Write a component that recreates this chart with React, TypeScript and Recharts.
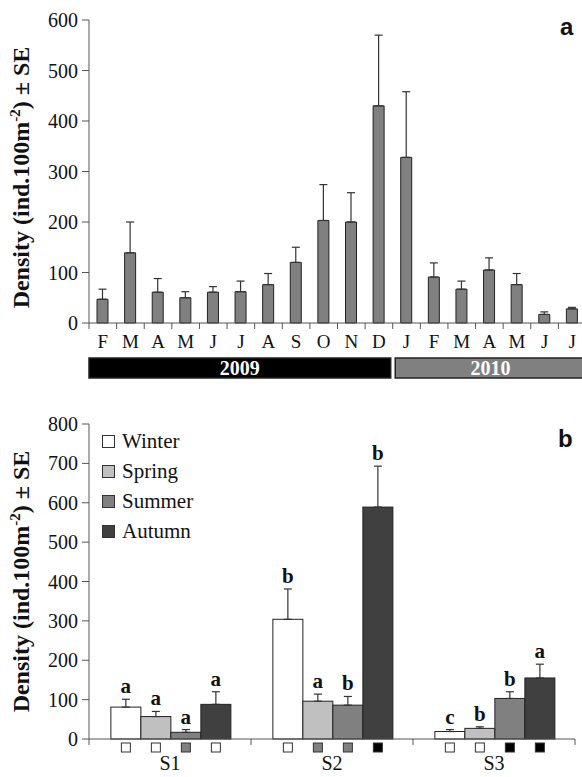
import React from 'react';
import { BarChart, Bar, XAxis, YAxis, ErrorBar, Legend } from 'recharts';

// panel a: monthly density, Feb 2009 - Jul 2010
const months = ['F', 'M', 'A', 'M', 'J', 'J', 'A', 'S', 'O', 'N', 'D', 'J', 'F', 'M', 'A', 'M', 'J', 'J'];
const monthYears = [
  '2009', '2009', '2009', '2009', '2009', '2009', '2009', '2009', '2009', '2009', '2009',
  '2010', '2010', '2010', '2010', '2010', '2010', '2010',
];
const monthDensity = [47, 139, 61, 50, 61, 62, 76, 120, 203, 200, 430, 328, 91, 67, 105, 76, 17, 28];
const monthSe = [20, 61, 27, 12, 11, 21, 22, 30, 71, 58, 140, 130, 28, 16, 24, 22, 5, 3];
const densityTicksA = [0, 100, 200, 300, 400, 500, 600];

// panel b: seasonal density per site
const sites = ['S1', 'S2', 'S3'];
const seasons = ['Winter', 'Spring', 'Summer', 'Autumn'];
const winterDensity = [81, 304, 19];
const springDensity = [57, 96, 27];
const summerDensity = [17, 86, 103];
const autumnDensity = [88, 589, 155];
const winterSe = [20, 77, 5];
const springSe = [13, 18, 4];
const summerSe = [7, 22, 17];
const autumnSe = [32, 104, 35];
const winterLetters = ['a', 'b', 'c'];
const springLetters = ['a', 'a', 'b'];
const summerLetters = ['a', 'b', 'b'];
const autumnLetters = ['a', 'b', 'a'];
const winterMarks = ['white', 'white', 'white'];
const springMarks = ['white', 'gray', 'white'];
const summerMarks = ['gray', 'gray', 'black'];
const autumnMarks = ['white', 'black', 'black'];
const densityTicksB = [0, 100, 200, 300, 400, 500, 600, 700, 800];

const SERIF = 'Liberation Serif, Times New Roman, serif';
const SANS = 'Liberation Sans, Arial, sans-serif';
const AXIS = '#555';

const seasonFill: Record<string, string> = { Winter: '#ffffff', Spring: '#c0c0c0', Summer: '#808080', Autumn: '#404040' };
const markFill: Record<string, string> = { white: '#ffffff', gray: '#808080', black: '#000000' };
const yearFill: Record<string, string> = { '2009': '#000000', '2010': '#808080' };

const monthData = months.map((m, i) => ({ month: m, year: monthYears[i], density: monthDensity[i], se: monthSe[i] }));

const seasonCols: Record<string, [number[], number[], string[], string[]]> = {
  Winter: [winterDensity, winterSe, winterLetters, winterMarks],
  Spring: [springDensity, springSe, springLetters, springMarks],
  Summer: [summerDensity, summerSe, summerLetters, summerMarks],
  Autumn: [autumnDensity, autumnSe, autumnLetters, autumnMarks],
};
const siteData = sites.map((site, i) => {
  const row: any = { site };
  seasons.forEach((s) => {
    const [d, se, let_, mk] = seasonCols[s];
    row[s] = d[i];
    row[s + 'Se'] = se[i];
    row[s + 'Letter'] = let_[i];
    row[s + 'Mark'] = mk[i];
  });
  return row;
});

// chart geometry
const A_W = 590, A_H = 390, A_LEFT = 89, A_RIGHT = 4;
const B_W = 582, B_H = 387, B_LEFT = 89, B_RIGHT = 7;
const STEP_A = (A_W - A_LEFT - A_RIGHT) / months.length;
const STEP_B = (B_W - B_LEFT - B_RIGHT) / sites.length;

const serifText = { fontFamily: SERIF };

const DensityLabel = ({ viewBox, shift }: any) => {
  const cx = viewBox.x + 29;
  const cy = viewBox.y + viewBox.height / 2 + shift;
  return (
    <text
      transform={`translate(${cx},${cy}) rotate(-90)`}
      textAnchor="middle"
      style={serifText}
      fontWeight="bold"
      fontSize={24}
      fill="#111"
    >
      Density (ind.100m<tspan dy={-9} fontSize={15}>-2</tspan>
      <tspan dy={9}>) ± SE</tspan>
    </text>
  );
};

const YTick = ({ x, y, payload }: any) => (
  <text x={x} y={y} dy="0.35em" textAnchor="end" style={serifText} fontSize={20} fill="#111">
    {payload.value}
  </text>
);

const MonthTick = ({ x, y, payload, index }: any) => {
  const i = index ?? payload.index;
  const left = x - STEP_A / 2;
  const year = monthYears[i];
  const starts = i === 0 || monthYears[i - 1] !== year;
  let band = null;
  if (starts) {
    const n = monthYears.filter((yy) => yy === year).length;
    const isLast = i + n >= monthYears.length;
    const x0 = left + (i === 0 ? 0 : 2.5);
    const x1 = left + n * STEP_A - (isLast ? 0 : 2);
    band = (
      <g>
        <rect x={x0} y={y + 35} width={x1 - x0} height={20} fill={yearFill[year]} stroke="#222" strokeWidth={1.5} />
        <text x={(x0 + x1) / 2} y={y + 52} textAnchor="middle" style={serifText} fontWeight="bold" fontSize={20} fill="#fff">
          {year}
        </text>
      </g>
    );
  }
  return (
    <g>
      <line x1={left} x2={left} y1={y} y2={y + 6} stroke={AXIS} />
      <text x={x} y={y + 25} textAnchor="middle" style={serifText} fontSize={19} fill="#111">
        {payload.value}
      </text>
      {band}
    </g>
  );
};

const SiteTick = ({ x, y, payload, index }: any) => {
  const i = index ?? payload.index;
  const left = x - STEP_B / 2;
  return (
    <g>
      <line x1={left} x2={left} y1={y} y2={y + 6} stroke={AXIS} />
      {i === sites.length - 1 && <line x1={left + STEP_B} x2={left + STEP_B} y1={y} y2={y + 6} stroke={AXIS} />}
      <text x={x} y={y + 31} textAnchor="middle" style={serifText} fontSize={20} fill="#111">
        {payload.value}
      </text>
    </g>
  );
};

const makeSeasonShape = (season: string) => (props: any) => {
  const { x, y, width, height, payload } = props;
  const val = payload[season];
  const unit = val > 0 ? height / val : 0;
  const errTop = y - payload[season + 'Se'] * unit;
  const cx = x + width / 2;
  const base = y + height;
  return (
    <g>
      <rect x={x} y={y} width={width} height={height} fill={seasonFill[season]} stroke="#222" strokeWidth={1} />
      <text x={cx} y={errTop - 6} textAnchor="middle" style={serifText} fontWeight="bold" fontSize={21} fill="#111">
        {payload[season + 'Letter']}
      </text>
      <rect x={cx - 4.5} y={base + 4} width={9} height={9} fill={markFill[payload[season + 'Mark']]} stroke="#333" strokeWidth={1} />
    </g>
  );
};

const SeasonLegend = ({ payload }: any) => {
  const items = seasons.filter((s) => (payload || []).some((p: any) => p.value === s));
  return (
    <div style={{ fontFamily: SERIF, fontSize: 21, color: '#111' }}>
      {items.map((s) => (
        <div key={s} style={{ display: 'flex', alignItems: 'center', height: 30 }}>
          <div style={{ width: 11, height: 11, background: seasonFill[s], border: '1px solid #333', marginRight: 7 }} />
          <span>{s}</span>
        </div>
      ))}
    </div>
  );
};

const App = () => {
  return (
    <div style={{ position: 'absolute', left: 0, top: 0, width: 582, height: 777, overflow: 'hidden', background: '#fff' }}>
      <div style={{ position: 'absolute', left: 0, top: 0 }}>
        <BarChart width={A_W} height={A_H} data={monthData} margin={{ top: 20, right: A_RIGHT, bottom: 7, left: 0 }}>
          <XAxis
            dataKey="month"
            interval={0}
            height={60}
            tickLine={false}
            tickSize={0}
            tickMargin={0}
            axisLine={{ stroke: AXIS }}
            tick={<MonthTick />}
          />
          <YAxis
            width={A_LEFT}
            domain={[0, 600]}
            ticks={densityTicksA}
            interval={0}
            tickSize={7}
            tickMargin={4}
            axisLine={{ stroke: AXIS }}
            tickLine={{ stroke: AXIS }}
            tick={<YTick />}
            label={<DensityLabel shift={6} />}
          />
          <Bar dataKey="density" fill="#808080" stroke="#222" strokeWidth={1} barSize={11} isAnimationActive={false}>
            <ErrorBar dataKey={(d: any) => [0, d.se]} width={4} stroke="#333" strokeWidth={1.2} direction="y" />
          </Bar>
        </BarChart>
      </div>

      <div style={{ position: 'absolute', left: 0, top: 390 }}>
        <BarChart
          width={B_W}
          height={B_H}
          data={siteData}
          margin={{ top: 34, right: B_RIGHT, bottom: 0, left: 0 }}
          barCategoryGap="13.5%"
          barGap={0}
        >
          <XAxis
            dataKey="site"
            interval={0}
            height={38}
            tickLine={false}
            tickSize={0}
            tickMargin={0}
            axisLine={{ stroke: AXIS }}
            tick={<SiteTick />}
          />
          <YAxis
            width={B_LEFT}
            domain={[0, 800]}
            ticks={densityTicksB}
            interval={0}
            tickSize={7}
            tickMargin={4}
            axisLine={{ stroke: AXIS }}
            tickLine={{ stroke: AXIS }}
            tick={<YTick />}
            label={<DensityLabel shift={0} />}
          />
          <Legend
            layout="vertical"
            align="center"
            verticalAlign="middle"
            content={<SeasonLegend />}
            wrapperStyle={{ top: 36, left: 102, width: 120 }}
          />
          {seasons.map((s) => (
            <Bar key={s} dataKey={s} name={s} fill={seasonFill[s]} stroke="#222" shape={makeSeasonShape(s)} isAnimationActive={false}>
              <ErrorBar dataKey={(d: any) => [0, d[s + 'Se']]} width={4} stroke="#333" strokeWidth={1.2} direction="y" />
            </Bar>
          ))}
        </BarChart>
      </div>

      <svg width={582} height={777} style={{ position: 'absolute', left: 0, top: 0, pointerEvents: 'none' }}>
        <text x={560} y={35} style={{ fontFamily: SANS }} fontWeight="bold" fontSize={24} fill="#111">a</text>
        <text x={558} y={447} style={{ fontFamily: SANS }} fontWeight="bold" fontSize={24} fill="#111">b</text>
      </svg>
    </div>
  );
};

export default App;
